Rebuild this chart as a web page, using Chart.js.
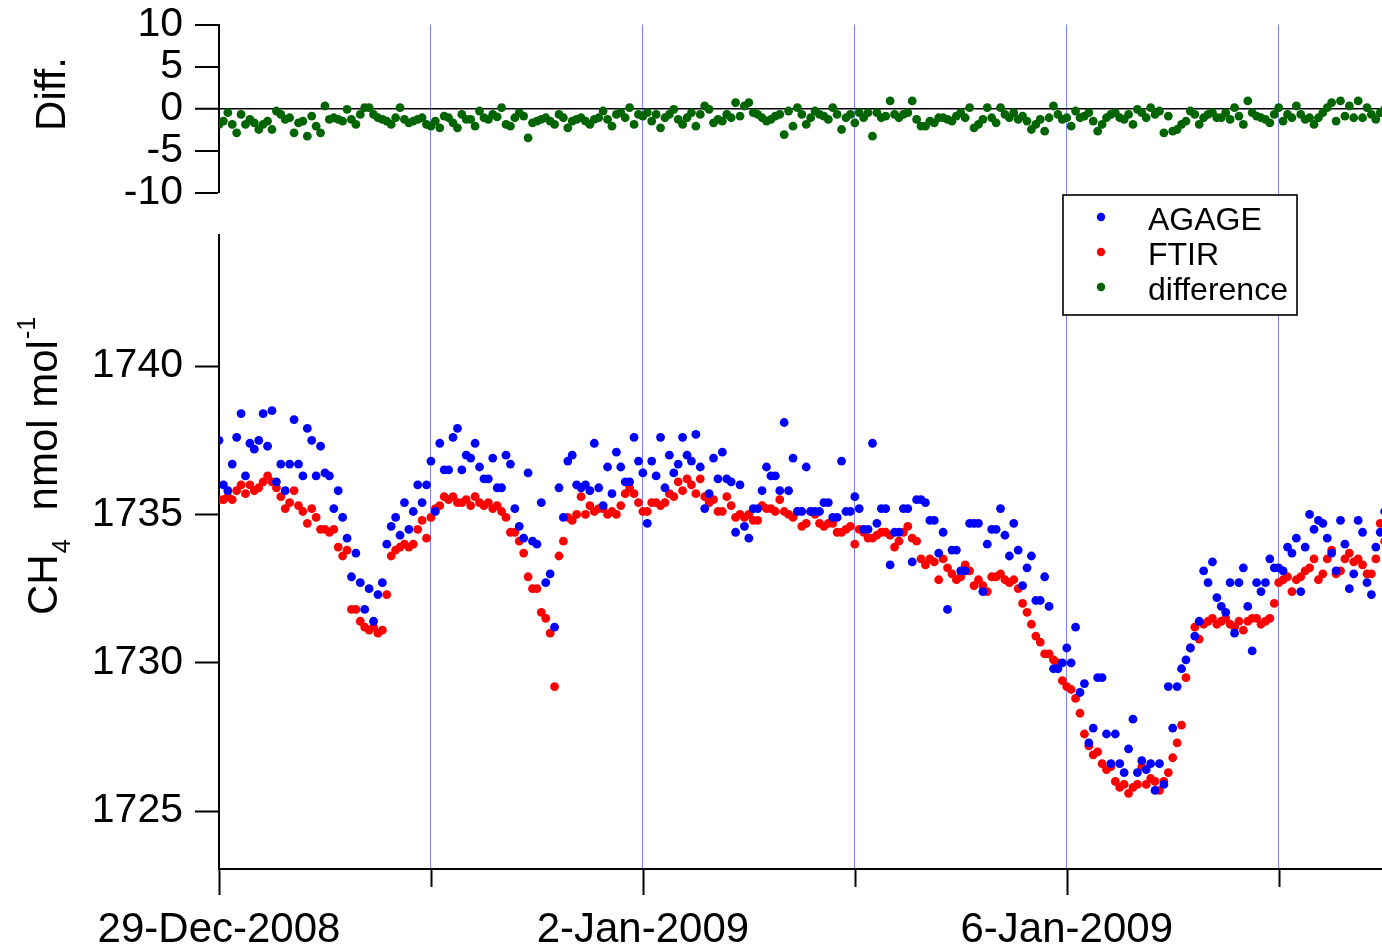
<!DOCTYPE html>
<html>
<head>
<meta charset="utf-8">
<script src="https://cdn.jsdelivr.net/npm/chart.js@4.4.1/dist/chart.umd.min.js"></script>
<style>
  html, body { margin: 0; padding: 0; background: #ffffff; }
  #wrap { position: relative; width: 1382px; height: 949px; }
  canvas { display: block; }
</style>
</head>
<body>
<div id="wrap"><canvas id="c" width="1382" height="949" style="width:1382px;height:949px"></canvas></div>
<script>
// ---------------- DATA (hourly samples from 29-Dec-2008 00:00) ----------------
const startLabel = '29-Dec-2008 00:00';
const stepHours = 1;

// FTIR CH4, nmol mol-1
const ftir = [
  1735.5, 1735.5, 1735.6, 1735.5, 1735.8, 1736.0, 1735.7, 1736.0, 1735.8, 1735.9, 1736.1, 1736.3,
  1736.1, 1735.9, 1735.6, 1735.2, 1735.4, 1735.8, 1735.3, 1735.1, 1734.7, 1735.2, 1734.9, 1734.5,
  1734.5, 1734.4, 1734.5, 1733.9, 1733.6, 1733.8, 1731.8, 1731.8, 1731.4, 1731.2, 1731.1, 1731.2,
  1731.0, 1731.1, 1732.3, 1733.6, 1733.8, 1733.9, 1734.0, 1733.9, 1734.0, 1734.5, 1734.8, 1734.2,
  1734.9, 1735.2, 1735.3, 1735.6, 1735.5, 1735.6, 1735.4, 1735.4, 1735.5, 1735.3, 1735.6, 1735.4,
  1735.3, 1735.4, 1735.2, 1735.3, 1735.1, 1734.9, 1734.4, 1734.4, 1734.1, 1733.7, 1732.9, 1732.5,
  1732.5, 1731.7, 1731.5, 1731.0, 1729.2, 1733.6, 1734.1, 1734.9, 1734.8, 1735.0, 1735.6, 1735.0,
  1735.3, 1735.1, 1735.2, 1735.2, 1735.0, 1735.1, 1735.0, 1735.3, 1735.7, 1735.9, 1735.7, 1735.4,
  1735.1, 1735.1, 1735.4, 1735.4, 1735.3, 1735.4, 1735.7, 1735.6, 1736.1, 1735.8, 1736.2, 1736.0,
  1735.7, 1736.2, 1735.6, 1735.4, 1735.5, 1735.1, 1735.1, 1735.6, 1735.3, 1734.9, 1735.0, 1734.9,
  1735.0, 1734.8, 1734.8, 1735.3, 1735.2, 1735.2, 1735.1, 1735.5, 1735.1, 1735.0, 1734.9, 1735.1,
  1734.6, 1734.7, 1735.1, 1735.0, 1734.7, 1734.6, 1734.7, 1734.7, 1734.4, 1734.4, 1734.5, 1734.6,
  1734.0, 1734.5, 1734.4, 1734.2, 1734.2, 1734.3, 1734.4, 1734.4, 1734.3, 1733.9, 1734.1, 1734.4,
  1734.6, 1734.2, 1734.1, 1733.5, 1733.3, 1733.5, 1733.4, 1732.8, 1733.5, 1733.2, 1733.0, 1732.8,
  1732.9, 1733.3, 1733.1, 1732.6, 1732.8, 1732.6, 1732.4, 1732.9, 1732.9, 1733.0, 1732.8, 1732.7,
  1732.8, 1732.5, 1732.0, 1731.7, 1731.3, 1730.9, 1730.7, 1730.3, 1730.3, 1730.1, 1730.0, 1729.4,
  1729.2, 1729.1, 1728.8, 1728.3, 1727.6, 1727.2, 1726.9, 1727.0, 1726.6, 1726.4, 1726.5, 1726.0,
  1725.8, 1725.9, 1725.6, 1725.8, 1725.9, 1726.5, 1725.9, 1726.1, 1726.0, 1725.7, 1726.0, 1726.3,
  1726.8, 1727.3, 1727.9, 1729.5, 1730.5, 1731.2, 1730.8, 1731.3, 1731.4, 1731.5, 1731.3, 1731.4,
  1731.5, 1731.3, 1731.2, 1731.4, 1731.1, 1731.4, 1731.5, 1731.5, 1731.3, 1731.4, 1731.5, 1732.0,
  1732.7, 1732.8, 1732.9, 1732.4, 1732.8, 1732.9, 1733.1, 1733.2, 1733.5, 1732.8, 1733.0, 1733.5,
  1733.8, 1733.0, 1733.1, 1733.5, 1733.7, 1733.4, 1733.5, 1733.3, 1733.0, 1733.0, 1733.5, 1734.7,
  1734.1
];

// AGAGE CH4, nmol mol-1
const agage = [
  1737.5, 1736.0, 1735.8, 1736.7, 1737.6, 1738.4, 1736.3, 1737.4, 1737.2, 1737.5, 1738.4, 1737.3,
  1738.5, 1736.1, 1736.7, 1735.8, 1736.7, 1738.2, 1736.7, 1736.3, 1737.9, 1737.5, 1736.3, 1737.3,
  1736.4, 1736.3, 1735.2, 1735.8, 1734.9, 1734.2, 1732.9, 1733.7, 1732.7, 1731.8, 1732.5, 1731.4,
  1732.3, 1732.7, 1734.0, 1734.6, 1734.9, 1734.3, 1735.4, 1734.5, 1735.1, 1736.0, 1735.4, 1736.0,
  1736.8, 1735.1, 1737.4, 1736.5, 1736.5, 1737.6, 1737.9, 1736.5, 1737.0, 1736.9, 1737.4, 1736.6,
  1736.2, 1736.2, 1736.9, 1735.9, 1735.9, 1737.0, 1736.7, 1735.2, 1734.6, 1734.2, 1736.4, 1734.1,
  1734.0, 1735.4, 1732.7, 1733.0, 1731.2, 1735.9, 1734.9, 1736.8, 1737.0, 1736.0, 1735.9, 1736.0,
  1735.8, 1737.4, 1735.9, 1735.3, 1736.6, 1735.7, 1737.1, 1736.6, 1736.1, 1736.1, 1737.6, 1736.8,
  1736.4, 1734.7, 1736.8, 1736.3, 1737.6, 1735.9, 1737.0, 1736.4, 1736.7, 1737.6, 1737.0, 1736.8,
  1737.7, 1736.6, 1735.2, 1735.7, 1736.9, 1736.2, 1737.1, 1736.2, 1736.1, 1734.4, 1736.0, 1734.6,
  1734.2, 1735.2, 1735.2, 1735.8, 1736.6, 1736.3, 1736.3, 1735.8, 1738.1, 1735.8, 1736.9, 1735.1,
  1735.1, 1736.6, 1735.1, 1735.1, 1735.1, 1735.4, 1735.4, 1734.9, 1734.9, 1736.8, 1735.1, 1735.1,
  1735.6, 1735.2, 1734.5, 1734.5, 1737.4, 1734.7, 1735.2, 1735.2, 1733.3, 1734.4, 1734.4, 1735.2,
  1735.2, 1733.4, 1735.5, 1735.5, 1735.4, 1734.8, 1734.8, 1733.7, 1734.4, 1731.8, 1733.8, 1733.8,
  1733.1, 1733.1, 1734.7, 1734.7, 1734.7, 1732.4, 1734.0, 1734.5, 1734.5, 1735.2, 1734.3, 1733.6,
  1734.7, 1733.8, 1732.6, 1733.2, 1733.6, 1732.1, 1732.1, 1732.9, 1731.9, 1729.8, 1729.8, 1730.0,
  1730.5, 1730.0, 1731.2, 1729.0, 1729.3, 1727.3, 1727.8, 1729.5, 1729.5, 1727.6, 1726.6, 1727.6,
  1726.6, 1726.3, 1727.1, 1728.1, 1726.3, 1726.7, 1726.4, 1726.6, 1725.7, 1726.6, 1725.9, 1729.2,
  1727.8, 1729.2, 1729.8, 1730.1, 1730.5, 1730.9, 1731.4, 1733.1, 1732.7, 1733.4, 1732.2, 1731.9,
  1731.7, 1732.7, 1731.0, 1732.7, 1733.2, 1731.9, 1730.4, 1732.7, 1732.4, 1732.7, 1733.5, 1733.2,
  1733.2, 1733.1, 1733.9, 1733.7, 1734.2, 1732.4, 1733.9, 1735.0, 1734.5, 1734.8, 1734.7, 1734.2,
  1733.7, 1733.1, 1734.8, 1734.0, 1732.5, 1733.0, 1734.8, 1734.4, 1732.7, 1732.3, 1733.9, 1734.4,
  1735.1
];

// difference (top panel)
const difference = [
  -1.9, -1.5, -0.5, -1.9, -2.9, -0.7, -1.9, -1.3, -1.7, -2.5, -1.9, -1.5,
  -2.5, -0.3, -0.7, -1.3, -1.1, -2.9, -1.7, -1.5, -3.3, -0.9, -2.1, -2.9,
   0.3, -1.3, -1.1, -1.3, -1.5, -0.1, -1.3, -1.9, -0.7,  0.1,  0.1, -0.7,
  -1.1, -1.3, -1.5, -1.9, -1.1,  0.1, -1.3, -1.7, -1.5, -1.3, -1.1, -1.9,
  -2.1, -1.5, -2.3, -0.9, -1.1, -1.7, -2.3, -0.7, -1.3, -1.3, -2.1, -0.3,
  -1.1, -1.3, -0.7, -1.0,  0.1, -1.9, -2.1, -1.1, -0.5, -0.9, -3.5, -1.7,
  -1.5, -1.3, -1.1, -1.5, -1.9, -0.7, -1.1, -2.3, -1.5, -1.3, -1.1, -1.5,
  -1.9, -1.3, -1.1, -0.3, -1.3, -2.1, -0.7, -0.5, -1.1,  0.1, -1.9, -0.7,
  -0.9, -0.5, -1.5, -0.7, -2.3, -1.1, -0.7, -0.1, -1.3, -1.9, -1.1, -0.5,
  -2.1, -0.7,  0.3, -0.1, -1.7, -1.3, -1.5, -0.7, -1.1,  0.7, -0.9,  0.3,
   0.7, -0.5, -0.7, -1.1, -1.5, -1.3, -0.9, -0.7, -3.1, -0.3, -2.1,  0.1,
  -0.7, -1.9, -1.1, -0.3, -0.7, -0.9, -1.3,  0.1, -0.7, -2.5, -1.1, -0.7,
  -1.7, -0.5, -1.1, -0.5, -3.3, -0.5, -1.1, -0.9,  0.9, -0.7, -1.1, -0.7,
  -0.5,  0.9, -1.3, -2.1, -2.1, -1.5, -1.7, -1.1, -1.1, -1.3, -1.5, -0.9,
  -0.5, -1.1,  0.1, -2.3, -1.9, -1.3,  0.1, -1.1, -1.7,  0.1, -0.7, -1.1,
  -0.5, -1.3, -0.9, -1.5, -2.5, -1.9, -1.3, -2.7, -1.1,  0.3, -0.7, -1.3,
  -1.1, -2.1, -0.3, -1.1, -0.9, -0.5, -1.5, -2.7, -1.9, -1.1, -0.7, -0.5,
  -1.1, -1.3, -0.7, -1.9, -0.1, -0.5, -1.1,  0.1, -0.7, -0.3, -2.9, -0.9,
  -2.7, -2.5, -1.9, -1.5, -0.3, -0.7, -1.9, -1.1, -0.7, -0.5, -1.1, -1.1,
  -0.5, -1.3,  0.1, -0.9, -1.9,  0.9, -0.5, -0.9, -1.1, -1.3, -1.7, -0.7,
   0.1, -1.5, -0.7, -1.1,  0.3, -0.7, -1.3, -1.1, -1.9, -1.1, -0.5,  0.1,
   0.7, -1.5,  0.9, -0.9,  0.3, -1.1,  0.9, -1.1,  0.1, -0.7, -1.3, -0.5,
  -0.1
];

// axes
const xTickHours  = [0, 48, 96, 144, 192, 240];
const xTickLabels = ['29-Dec-2008', '', '2-Jan-2009', '', '6-Jan-2009', ''];
const xMaxHours = 263.4;
const ch4Ticks  = [1725, 1730, 1735, 1740];
const diffTicks = [-10, -5, 0, 5, 10];
const seriesLabels = ['AGAGE', 'FTIR', 'difference'];
const seriesColors = ['#0000ff', '#ff0000', '#006400'];

// ---------------- CHART ----------------
const FONT = '"Liberation Sans", Arial, sans-serif';
const hours = ftir.map((_, i) => i * stepHours);
const toPts = arr => arr.map((v, i) => ({ x: hours[i], y: v }));

function mkSet(i, arr, axis) {
  return {
    label: seriesLabels[i], data: toPts(arr), yAxisID: axis,
    backgroundColor: seriesColors[i], borderColor: seriesColors[i],
    pointRadius: 4.4, pointHoverRadius: 4.4, borderWidth: 0, showLine: false
  };
}

function noPad(s) { s.paddingLeft = 0; s.paddingRight = 0; s.paddingTop = 0; s.paddingBottom = 0; }

const decorPlugin = {
  id: 'decor',
  afterDraw(chart) {
    const c = chart.ctx;
    const xs = chart.scales.x;
    // x tick marks (major long, minor short)
    c.save();
    c.strokeStyle = '#000'; c.lineWidth = 2;
    xTickHours.forEach((h, i) => {
      const px = Math.round(xs.getPixelForValue(h)) + 0.5;
      const len = xTickLabels[i] ? 26 : 18;
      c.beginPath(); c.moveTo(px, xs.top); c.lineTo(px, xs.top + len); c.stroke();
    });
    c.restore();

    // y-axis titles
    c.save();
    c.fillStyle = '#000';
    c.translate(65, 94); c.rotate(-Math.PI / 2);
    c.font = '42px ' + FONT; c.textAlign = 'center'; c.textBaseline = 'alphabetic';
    c.fillText('Diff.', 0, 0);
    c.restore();

    c.save();
    c.fillStyle = '#000';
    c.translate(57, 615); c.rotate(-Math.PI / 2);
    c.textAlign = 'left'; c.textBaseline = 'alphabetic';
    let xp = 0;
    c.font = '42px ' + FONT; c.fillText('CH', xp, 0); xp += c.measureText('CH').width;
    c.font = '25px ' + FONT; c.fillText('4', xp + 1, 13); xp += c.measureText('4').width + 30;
    c.font = '42px ' + FONT; c.fillText('nmol mol', xp, 0); xp += c.measureText('nmol mol').width + 1;
    c.font = '25px ' + FONT; c.fillText('-1', xp, -22);
    c.restore();

    // legend
    const lx = 1063, ly = 195, lw = 234, lh = 120;
    c.save();
    c.fillStyle = '#fff'; c.fillRect(lx, ly, lw, lh);
    c.strokeStyle = '#000'; c.lineWidth = 1.6; c.strokeRect(lx, ly, lw, lh);
    c.font = '32px ' + FONT; c.textAlign = 'left'; c.textBaseline = 'alphabetic';
    chart.data.datasets.forEach((ds, i) => {
      const by = 230 + i * 35;
      c.fillStyle = ds.backgroundColor;
      c.beginPath(); c.arc(1101, by - 13, 4.2, 0, Math.PI * 2); c.fill();
      c.fillStyle = '#000';
      c.fillText(ds.label, 1148, by);
    });
    c.restore();
  }
};

const tickFmt = v => String(v);

new Chart(document.getElementById('c'), {
  type: 'scatter',
  data: {
    datasets: [
      mkSet(0, agage, 'yC'),
      mkSet(1, ftir, 'yC'),
      mkSet(2, difference, 'yD')
    ]
  },
  options: {
    responsive: false, animation: false, devicePixelRatio: 1,
    layout: { autoPadding: false, padding: { top: 24.5, right: 0, bottom: 0, left: 0 } },
    plugins: { legend: { display: false }, tooltip: { enabled: false } },
    scales: {
      x: {
        type: 'linear', position: 'bottom', min: 0, max: xMaxHours,
        afterBuildTicks: s => { s.ticks = xTickHours.map(v => ({ value: v })); },
        afterFit: s => { s.height = 80; noPad(s); },
        ticks: {
          autoSkip: false, maxRotation: 0, padding: 36, color: '#000',
          font: { family: FONT, size: 42 },
          callback: v => { const i = xTickHours.indexOf(v); return i >= 0 ? xTickLabels[i] : ''; }
        },
        grid: {
          drawTicks: false, lineWidth: 1,
          color: c => (c.tick && c.tick.value > 0) ? '#7f7fff' : 'rgba(0,0,0,0)'
        },
        border: { display: true, color: '#000', width: 2 }
      },
      yC: {
        type: 'linear', position: 'left', stack: 'v', stackWeight: 634,
        min: 1723.05, max: 1744.42,
        afterBuildTicks: s => { s.ticks = ch4Ticks.map(v => ({ value: v })); },
        afterFit: s => { s.width = 219; noPad(s); },
        ticks: { autoSkip: false, padding: 12, color: '#000', font: { family: FONT, size: 41 }, callback: tickFmt },
        grid: { drawOnChartArea: false, drawTicks: true, tickLength: 24, tickColor: '#000', tickWidth: 2 },
        border: { display: true, color: '#000', width: 2 }
      },
      yG: {
        type: 'linear', position: 'left', stack: 'v', stackWeight: 42.5,
        afterFit: s => { s.width = 219; noPad(s); },
        ticks: { display: false }, grid: { display: false }, border: { display: false }
      },
      yD: {
        type: 'linear', position: 'left', stack: 'v', stackWeight: 168,
        min: -10, max: 10,
        afterBuildTicks: s => { s.ticks = diffTicks.map(v => ({ value: v })); },
        afterFit: s => { s.width = 219; noPad(s); },
        ticks: { autoSkip: false, padding: 12, color: '#000', font: { family: FONT, size: 41 }, callback: tickFmt },
        grid: {
          drawOnChartArea: true, drawTicks: true, tickLength: 24, tickColor: '#000', tickWidth: 2,
          lineWidth: c => (c.tick && c.tick.value === 0) ? 1.5 : 0,
          color: c => (c.tick && c.tick.value === 0) ? '#000' : 'rgba(0,0,0,0)'
        },
        border: { display: true, color: '#000', width: 2 }
      }
    }
  },
  plugins: [decorPlugin]
});
</script>
</body>
</html>
